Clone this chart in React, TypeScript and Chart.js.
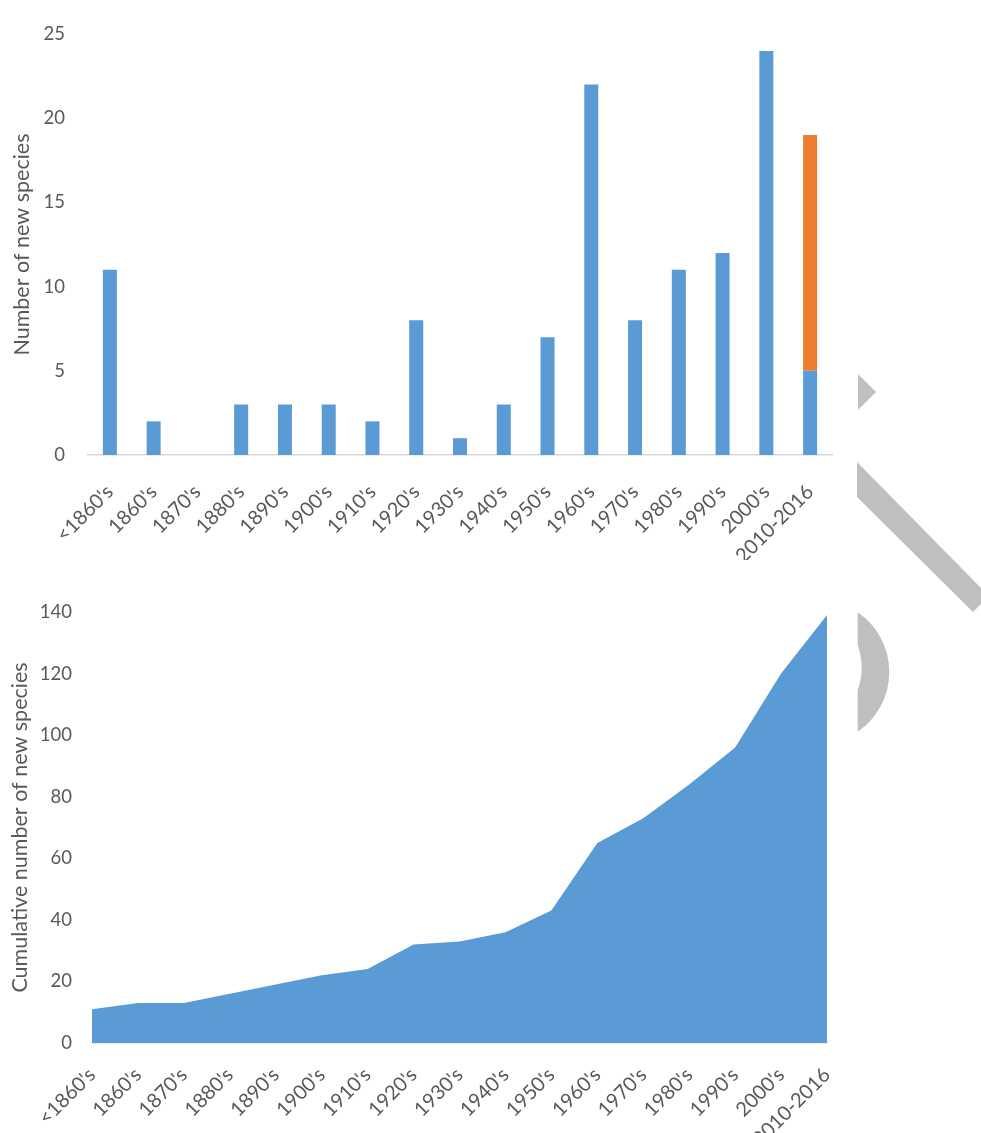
import React, { useEffect, useRef } from "react";
import { Chart, registerables } from "chart.js";

Chart.register(...registerables);

const categories = ["<1860's", "1860's", "1870's", "1880's", "1890's", "1900's", "1910's", "1920's", "1930's", "1940's", "1950's", "1960's", "1970's", "1980's", "1990's", "2000's", "2010-2016"];
const newSpeciesBlue = [11, 2, 0, 3, 3, 3, 2, 8, 1, 3, 7, 22, 8, 11, 12, 24, 5];
const newSpeciesOrange = [0, 0, 0, 0, 0, 0, 0, 0, 0, 0, 0, 0, 0, 0, 0, 0, 14];
const cumulativeSpecies = [11, 13, 13, 16, 19, 22, 24, 32, 33, 36, 43, 65, 73, 84, 96, 120, 139];
const topTicks = [0, 5, 10, 15, 20, 25];
const bottomTicks = [0, 20, 40, 60, 80, 100, 120, 140];

const FONT = "Lato, 'Open Sans', sans-serif";
const TEXT = "#595959";
const BLUE = "#5B9BD5";
const ORANGE = "#ED7D31";
const AXIS = "#D9D9D9";

function yScale(ticks: number[], title: string, width: number, pad: number, titlePad: number) {
  return {
    stacked: true,
    min: ticks[0],
    max: ticks[ticks.length - 1],
    afterFit: (s: any) => { s.width = width; },
    afterBuildTicks: (s: any) => { s.ticks = ticks.map((v) => ({ value: v })); },
    grid: { display: false, drawTicks: false },
    border: { display: false },
    ticks: { color: TEXT, font: { family: FONT, size: 18.5 }, padding: pad },
    title: { display: true, text: title, color: TEXT, font: { family: FONT, size: 21.5 }, padding: { top: titlePad, bottom: 0 } },
  };
}

function xScale(height: number, pad: number, offset: boolean) {
  return {
    stacked: true,
    offset,
    afterFit: (s: any) => { s.height = height; },
    grid: { display: false, drawTicks: false },
    border: { display: true, color: AXIS, width: 1.5 },
    ticks: { color: TEXT, font: { family: FONT, size: 20 }, minRotation: 45, maxRotation: 45, padding: pad, autoSkip: false },
  };
}

export default function App() {
  const topRef = useRef<HTMLCanvasElement>(null);
  const botRef = useRef<HTMLCanvasElement>(null);

  useEffect(() => {
    const top = new Chart(topRef.current!, {
      type: "bar",
      data: {
        labels: categories,
        datasets: [
          { data: newSpeciesBlue, backgroundColor: BLUE, categoryPercentage: 0.32, barPercentage: 1 },
          { data: newSpeciesOrange, backgroundColor: ORANGE, categoryPercentage: 0.32, barPercentage: 1 },
        ],
      },
      options: {
        animation: false,
        responsive: false,
        layout: { padding: { top: 25, right: 28, left: 0, bottom: 0 } },
        plugins: { legend: { display: false }, tooltip: { enabled: false } },
        scales: {
          x: xScale(105, 25, true) as any,
          y: yScale(topTicks, "Number of new species", 88, 23, 9) as any,
        },
      },
    });
    const bot = new Chart(botRef.current!, {
      type: "line",
      data: {
        labels: categories,
        datasets: [
          { data: cumulativeSpecies, backgroundColor: BLUE, borderColor: BLUE, borderWidth: 0, fill: "origin", pointRadius: 0, tension: 0 },
        ],
      },
      options: {
        animation: false,
        responsive: false,
        layout: { padding: { top: 42, right: 39, left: 0, bottom: 0 } },
        plugins: { legend: { display: false }, tooltip: { enabled: false } },
        scales: {
          x: xScale(90, 20, false) as any,
          y: yScale(bottomTicks, "Cumulative number of new species", 92, 20, 7) as any,
        },
      },
    });
    return () => { top.destroy(); bot.destroy(); };
  }, []);

  return (
    <div style={{ position: "absolute", left: 0, top: 0, width: 981, height: 1133, overflow: "hidden", background: "#fff" }}>
      <canvas ref={topRef} width={860} height={560} style={{ position: "absolute", left: 0, top: 0 }} />
      <canvas ref={botRef} width={866} height={563} style={{ position: "absolute", left: 0, top: 570 }} />
      <svg width={981} height={1133} style={{ position: "absolute", left: 0, top: 0, pointerEvents: "none" }}>
        <polygon points="858,374 876,392 858,410" fill="#BFBFBF" />
        <polygon points="857,462 981,588 981,604 973,612 857,497" fill="#BFBFBF" />
        <path d="M857.7 612.3 A72.2 72.2 0 0 1 857.7 731.7 L857.7 690 Q865.7 668 857.7 645 Z" fill="#BFBFBF" />
      </svg>
    </div>
  );
}
